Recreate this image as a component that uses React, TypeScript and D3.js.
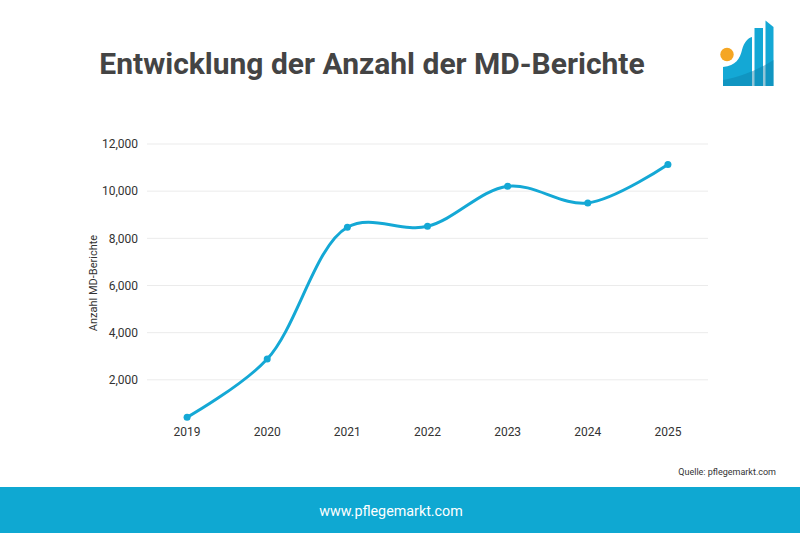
import React, { useEffect, useRef } from "react";
import * as d3 from "d3";

const WIDTH = 800;
const HEIGHT = 533;

const years = ["2019", "2020", "2021", "2022", "2023", "2024", "2025"];
const reports = [410, 2880, 8470, 8510, 10210, 9500, 11130];
const yTicks = [2000, 4000, 6000, 8000, 10000, 12000];

const BLUE = "#14a8d5";
const TEXT = "#333333";

const Logo: React.FC = () => (
  <g>
    <path
      d="M723,86 L723,67 C736,66 740,58 742,50 C744,42 748,38 752,37 L752,86 Z"
      fill={BLUE}
    />
    <rect x={754.5} y={28} width={8.5} height={58} fill={BLUE} />
    <path d="M765.5,20.5 L773.5,27 L773.5,86 L765.5,86 Z" fill={BLUE} />
    <path
      d="M723,86 L723,80 C740,77 758,70 773.5,60 L773.5,86 Z"
      fill="#0a7fa8"
      opacity={0.45}
    />
    <circle cx={727} cy={54.5} r={6.7} fill="#f5a623" />
  </g>
);

export default function App() {
  const ref = useRef<SVGGElement>(null);

  const margin = { left: 147, right: 708, top: 144, bottom: 427 };

  const x = d3
    .scaleBand<string>()
    .domain(years)
    .range([margin.left, margin.right])
    .padding(0);

  const y = d3.scaleLinear().domain([0, 12000]).range([margin.bottom, margin.top]);

  useEffect(() => {
    const g = d3.select(ref.current);
    if (!ref.current) return;
    g.selectAll("*").remove();

    // gridlines
    g.append("g")
      .selectAll("line")
      .data(yTicks)
      .enter()
      .append("line")
      .attr("x1", margin.left)
      .attr("x2", margin.right)
      .attr("y1", (d) => y(d))
      .attr("y2", (d) => y(d))
      .attr("stroke", "#ebebeb")
      .attr("stroke-width", 1);

    // y tick labels
    g.append("g")
      .selectAll("text")
      .data(yTicks)
      .enter()
      .append("text")
      .attr("x", margin.left - 9)
      .attr("y", (d) => y(d))
      .attr("dy", "0.35em")
      .attr("text-anchor", "end")
      .attr("font-size", 12)
      .attr("fill", TEXT)
      .text((d) => d3.format(",")(d));

    // x tick labels
    g.append("g")
      .selectAll("text")
      .data(years)
      .enter()
      .append("text")
      .attr("x", (d) => (x(d) ?? 0) + x.bandwidth() / 2)
      .attr("y", 436)
      .attr("text-anchor", "middle")
      .attr("font-size", 12)
      .attr("fill", TEXT)
      .text((d) => d);

    const pts = years.map((yr, i) => ({ yr, v: reports[i] }));

    const line = d3
      .line<{ yr: string; v: number }>()
      .x((d) => (x(d.yr) ?? 0) + x.bandwidth() / 2)
      .y((d) => y(d.v))
      .curve(d3.curveCatmullRom.alpha(0.5));

    g.append("path")
      .datum(pts)
      .attr("d", line)
      .attr("fill", "none")
      .attr("stroke", BLUE)
      .attr("stroke-width", 3);

    g.append("g")
      .selectAll("circle")
      .data(pts)
      .enter()
      .append("circle")
      .attr("cx", (d) => (x(d.yr) ?? 0) + x.bandwidth() / 2)
      .attr("cy", (d) => y(d.v))
      .attr("r", 3.5)
      .attr("fill", BLUE);
  }, []);

  return (
    <svg
      width={WIDTH}
      height={HEIGHT}
      style={{ position: "absolute", left: 0, top: 0, fontFamily: "Roboto, sans-serif" }}
    >
      <rect width={WIDTH} height={HEIGHT} fill="#ffffff" />
      <text x={372} y={74} textAnchor="middle" fontSize={30} fontWeight={700} fill="#444444">
        Entwicklung der Anzahl der MD-Berichte
      </text>
      <Logo />
      <text
        transform="translate(97,283) rotate(-90)"
        textAnchor="middle"
        fontSize={11}
        fill={TEXT}
      >
        Anzahl MD-Berichte
      </text>
      <g ref={ref} />
      <text x={776} y={475} textAnchor="end" fontSize={9} fill={TEXT}>
        Quelle: pflegemarkt.com
      </text>
      <rect x={0} y={487} width={WIDTH} height={46} fill="#0fa8d2" />
      <text x={391} y={516} textAnchor="middle" fontSize={14.3} fill="#ffffff">
        www.pflegemarkt.com
      </text>
    </svg>
  );
}
